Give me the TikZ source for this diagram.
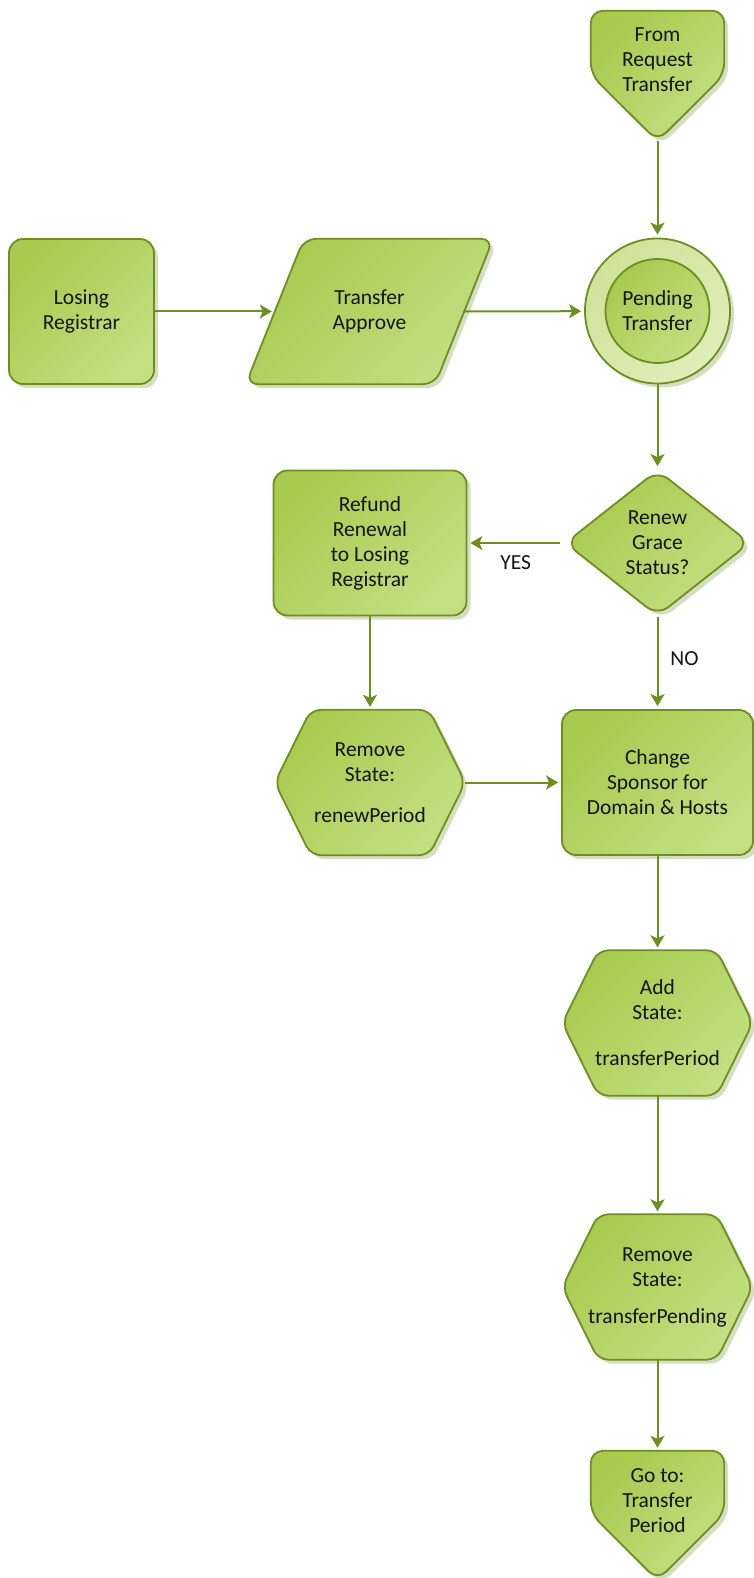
\documentclass[tikz,border=0pt]{standalone}
\usepackage{fontspec}
\setmainfont{Carlito}
\usetikzlibrary{arrows.meta, shapes.geometric, shadows, backgrounds, positioning}
\definecolor{leafGreen}{HTML}{A8CA4E}
\definecolor{leafLight}{HTML}{C3DF82}
\definecolor{ringTop}{HTML}{CFE399}
\definecolor{ringBottom}{HTML}{E0EDBA}
\definecolor{edgeGreen}{HTML}{6D8F1F}
\definecolor{shadowGray}{HTML}{D6DEC2}
\definecolor{mainBlack}{gray}{0.08}

\begin{document}
\begin{tikzpicture}[x=1pt, y=-1pt,
    font=\fontsize{21.5}{25}\selectfont,
    every node/.style={text=mainBlack, align=center, inner sep=0pt},
    greenShade/.style={draw=edgeGreen, line width=1.8pt, top color=leafGreen, bottom color=leafLight, shading angle=45},
    greenFill/.style={greenShade, drop shadow={shadow xshift=4pt, shadow yshift=-4pt, fill=shadowGray, opacity=1}},
    task/.style={greenFill, rectangle, rounded corners=14pt, minimum height=145pt},
    decision/.style={greenFill, diamond, rounded corners=14pt, minimum width=185pt, minimum height=146pt},
    hexbox/.style={minimum width=190pt, minimum height=145pt},
    slantbox/.style={minimum width=247pt, minimum height=145pt},
    offbox/.style={minimum width=133pt, minimum height=130pt},
    flow/.style={draw=edgeGreen, line width=2pt, -{Stealth[length=12pt, width=14pt, inset=3pt]}, shorten >=3pt}]
    \useasboundingbox (0,0) rectangle (754,1578);

    % top row
    \node[offbox] (fromReq) at (657.5,76) {};
    \node (fromText) at ([yshift=16pt]fromReq.center) {From\\Request\\Transfer};
    \node[task, minimum width=145pt] (losing) at (81.5,311.5) {Losing\\Registrar};
    \node[slantbox] (approve) at (369.5,311.5) {Transfer\\Approve};
    \coordinate (approveIn) at ([xshift=29pt]approve.west);
    \coordinate (approveOut) at ([xshift=-29pt]approve.east);
    \node[circle, draw=edgeGreen, line width=1.8pt, top color=ringTop, bottom color=ringBottom, shading angle=45,
        drop shadow={shadow xshift=4pt, shadow yshift=-4pt, fill=shadowGray, opacity=1},
        minimum size=145pt] (pending) at (657.5,311) {};
    \node[circle, greenShade, minimum size=104pt] (pendingCore) at (pending) {Pending\\Transfer};

    % decision and branches
    \node[decision] (renew) at (657.5,543) {Renew\\Grace\\Status?};
    \node[task, minimum width=193pt] (refund) at (370,543) {Refund\\Renewal\\to Losing\\Registrar};
    \node[hexbox] (removeRenew) at (370,782.5) {Remove\\State:\\[16pt]renewPeriod};
    \node[task, minimum width=191pt] (sponsor) at (657.5,782.5) {Change\\Sponsor for\\Domain \& Hosts};

    % bottom column
    \node[hexbox] (addState) at (657.5,1023) {Add\\State:\\[21pt]transferPeriod};
    \node[hexbox] (removePending) at (657.5,1287) {Remove\\State:\\[12pt]transferPending};
    \node[offbox, minimum height=129pt] (goTo) at (657.5,1515.5) {};
    \node (goToText) at ([yshift=14.5pt]goTo.center) {Go to:\\Transfer\\Period};

    \begin{pgfonlayer}{background}
        \foreach \off in {fromReq, goTo}
            \path[greenFill, rounded corners=12pt] (\off.north west) -- (\off.north east) -- ([yshift=66.5pt]\off.south east)
                -- (\off.south) -- ([yshift=66.5pt]\off.south west) -- cycle;
        \path[greenFill, rounded corners=12pt] ([xshift=58pt]approve.north west) -- (approve.north east)
            -- ([xshift=-58pt]approve.south east) -- (approve.south west) -- cycle;
        \foreach \hex in {removeRenew, addState, removePending}
            \path[greenFill, rounded corners=10pt] (\hex.west) -- ([xshift=36pt]\hex.north west) -- ([xshift=-36pt]\hex.north east)
                -- (\hex.east) -- ([xshift=-36pt]\hex.south east) -- ([xshift=36pt]\hex.south west) -- cycle;
    \end{pgfonlayer}

    \draw[flow] (fromReq) -- (pending);
    \draw[flow] (losing) -- (approveIn);
    \draw[flow] (approveOut) -- (pending);
    \draw[flow] (pending) -- (renew);
    \draw[flow, shorten <=4pt] (renew) -- (refund) node[midway, yshift=-20pt] (yes) {YES};
    \draw[flow] (renew) -- (sponsor) node[midway, xshift=27pt, yshift=4pt] (no) {NO};
    \draw[flow] (refund) -- (removeRenew);
    \draw[flow] (removeRenew) -- (sponsor);
    \draw[flow] (sponsor) -- (addState);
    \draw[flow] (addState) -- (removePending);
    \draw[flow] (removePending) -- (goTo);
\end{tikzpicture}
\end{document}
